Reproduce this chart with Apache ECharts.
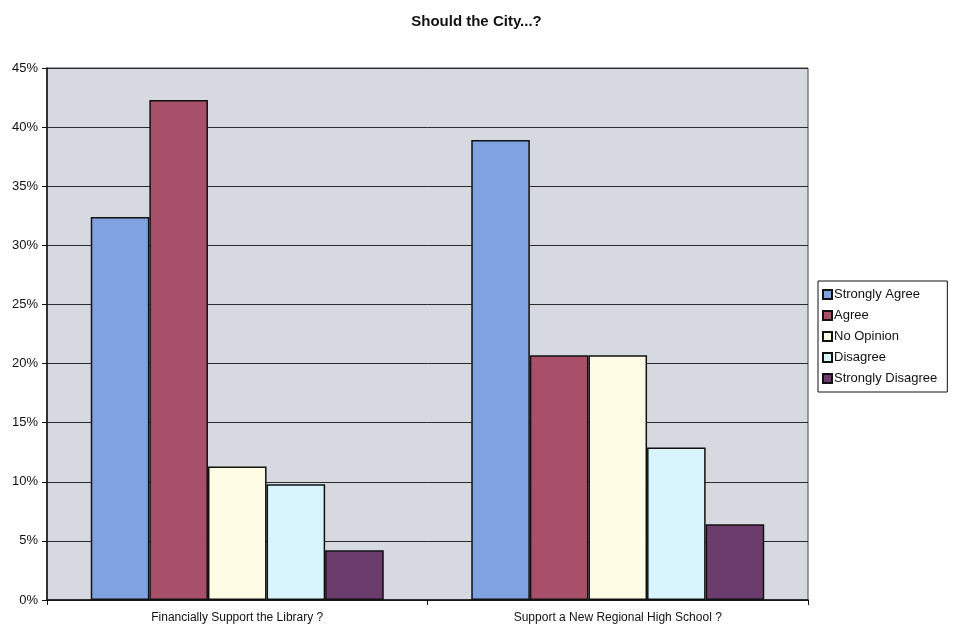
<!DOCTYPE html>
<html>
<head>
<meta charset="utf-8">
<title>Should the City...?</title>
<script src="https://cdn.jsdelivr.net/npm/echarts@6/dist/echarts.min.js"></script>
<style>
  html, body { margin: 0; padding: 0; background: #ffffff; }
  #chart { width: 953px; height: 630px; }
</style>
</head>
<body>
<div id="chart"></div>
<script>
// Survey questions along the x axis
const categories = ['Financially Support the Library ?', 'Support a New Regional High School ?'];

// Share of responses (%) per answer
const stronglyAgree    = [32.4, 38.9];
const agree            = [42.3, 20.7];
const noOpinion        = [11.3, 20.7];
const disagree         = [9.8, 12.9];
const stronglyDisagree = [4.2, 6.4];

const seriesNames = ['Strongly Agree', 'Agree', 'No Opinion', 'Disagree', 'Strongly Disagree'];
const seriesData = [stronglyAgree, agree, noOpinion, disagree, stronglyDisagree];
const seriesColors = ['#7fa2e0', '#a8506a', '#fffce6', '#d8f4fd', '#6c3c6c'];

const FONT = 'Liberation Sans, Arial, sans-serif';

const chart = echarts.init(document.getElementById('chart'), null, { renderer: 'canvas' });

chart.setOption({
  animation: false,
  backgroundColor: '#ffffff',
  title: {
    text: 'Should the City...?',
    left: 'center',
    top: 9,
    textStyle: { fontFamily: FONT, fontSize: 15, fontWeight: 'bold', color: '#111' }
  },
  legend: {
    orient: 'vertical',
    left: 818,
    top: 281,
    data: seriesNames,
    icon: 'rect',
    itemWidth: 9,
    itemHeight: 9,
    itemGap: 8,
    padding: [7, 10, 7, 4],
    backgroundColor: '#ffffff',
    borderColor: '#111',
    borderWidth: 1,
    textStyle: { fontFamily: FONT, fontSize: 13, color: '#111', padding: [0, 0, 0, -3] }
  },
  grid: {
    left: 47,
    right: 145,
    top: 68,
    bottom: 30,
    show: true,
    backgroundColor: '#d6d9df',
    borderColor: '#444',
    borderWidth: 1
  },
  xAxis: {
    type: 'category',
    data: categories,
    axisLine: { lineStyle: { color: '#111', width: 1.5 } },
    axisTick: { show: true, length: 5, lineStyle: { color: '#111' } },
    axisLabel: { fontFamily: FONT, fontSize: 12, color: '#111', margin: 12 }
  },
  yAxis: {
    type: 'value',
    min: 0,
    max: 45,
    interval: 5,
    axisLine: { show: true, lineStyle: { color: '#111', width: 1.5 } },
    axisTick: { show: true, length: 5, lineStyle: { color: '#111' } },
    axisLabel: { fontFamily: FONT, fontSize: 13, color: '#111', margin: 9, formatter: '{value}%' },
    splitLine: { show: true, lineStyle: { color: '#2a2a2a', width: 1 } }
  },
  series: seriesNames.map((name, i) => ({
    name: name,
    type: 'bar',
    data: seriesData[i],
    barGap: '0%',
    barCategoryGap: '23%',
    itemStyle: { color: seriesColors[i], borderColor: '#111', borderWidth: 1.5 }
  }))
});
</script>
</body>
</html>
